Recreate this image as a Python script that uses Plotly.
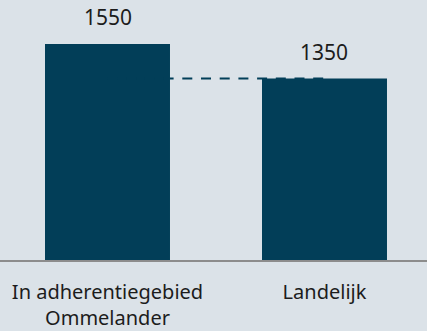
import plotly.graph_objects as go

categories = ["In adherentiegebied<br>Ommelander", "Landelijk"]
values = [1550, 1350]
value_labels = ["1550", "1350"]

BAR = "#023e58"
BG = "#dbe2e8"
TEXT = "#1c1c1c"
FONT = "'Noto Sans', sans-serif"

fig = go.Figure()
fig.add_trace(go.Bar(
    x=categories, y=values, marker=dict(color=BAR, line=dict(width=0)),
    width=0.576, hoverinfo="skip",
))

# dashed reference line from the first bar to the level of the second
fig.add_trace(go.Scatter(
    x=categories, y=[values[1], values[1]], mode="lines",
    line=dict(color=BAR, width=2, dash="10px,8.7px"), hoverinfo="skip",
))

for c, v, t in zip(categories, values, value_labels):
    fig.add_annotation(x=c, y=v, text=t, showarrow=False, yanchor="bottom",
                       yshift=11, font=dict(size=21, color=TEXT, family=FONT))

fig.update_layout(
    width=427, height=331, margin=dict(l=0, r=0, t=0, b=66),
    paper_bgcolor=BG, plot_bgcolor=BG, showlegend=False,
    font=dict(family=FONT, size=20, color=TEXT),
    xaxis=dict(range=[-0.4954, 1.4724], showline=True, linecolor="#8c8c8c",
               linewidth=1.5, showgrid=False, ticks="", ticklabelstandoff=13,
               tickfont=dict(size=20, color=TEXT, family=FONT)),
    yaxis=dict(range=[300, 1805], visible=False, showgrid=False, zeroline=False),
)

fig.write_html("out.html")
